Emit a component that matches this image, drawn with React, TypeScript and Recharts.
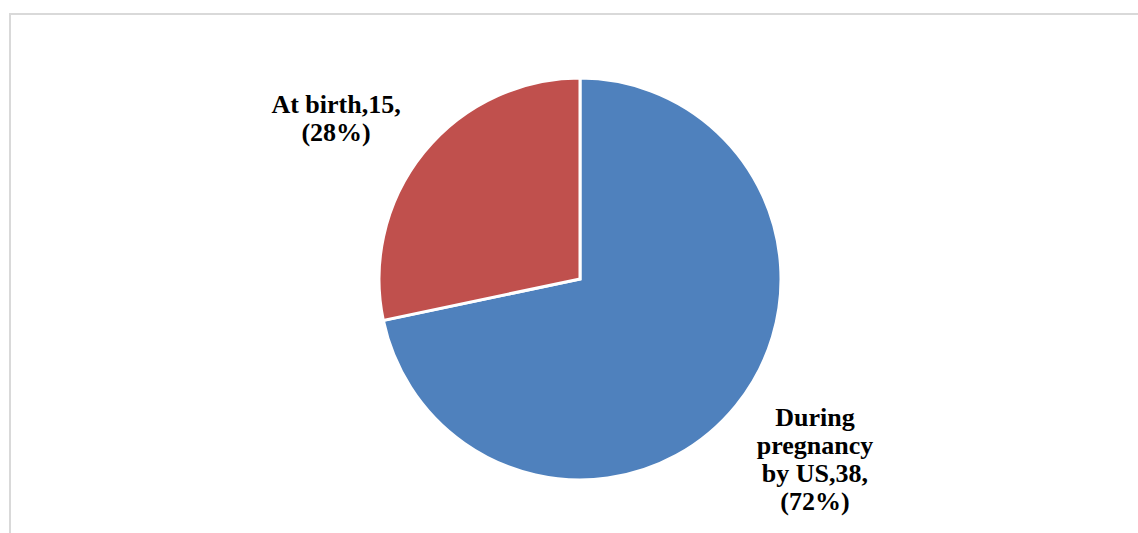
import React from "react";
import { PieChart, Pie, Cell } from "recharts";

const names = ["During pregnancy by US", "At birth"];
const counts = [38, 15];
const labelLines = [
  ["During", "pregnancy", "by US,38,", "(72%)"],
  ["At birth,15,", "(28%)"],
];
const colors = ["#4F81BD", "#C0504D"];

const data = names.map((name, i) => ({ name, value: counts[i] }));

// small per-slice nudges so labels sit where the original "best fit" put them
const NUDGE = [
  { dx: 2, dy: -9 },
  { dx: -11, dy: 28 },
];
const LINE_H = 28;

const renderLabel = (props: any) => {
  const { cx, cy, midAngle, index } = props;
  const R = 300;
  const rad = (Math.PI / 180) * midAngle;
  const x = cx + R * Math.cos(rad) + NUDGE[index].dx;
  const y = cy - R * Math.sin(rad) + NUDGE[index].dy;
  const lines = labelLines[index];
  const top = y - ((lines.length - 1) * LINE_H) / 2;
  return (
    <text
      x={x}
      y={top}
      textAnchor="middle"
      dominantBaseline="central"
      fontFamily="'Liberation Serif', 'Times New Roman', serif"
      fontWeight="bold"
      fontSize={26}
      fill="#000"
    >
      {lines.map((l, i) => (
        <tspan key={i} x={x} y={top + i * LINE_H}>
          {l}
        </tspan>
      ))}
    </text>
  );
};

export default function App() {
  return (
    <div style={{ position: "absolute", left: 0, top: 0, width: 1138, height: 533, background: "#fff", overflow: "hidden" }}>
      <div
        style={{
          position: "absolute",
          left: 9,
          top: 13,
          width: 1200,
          height: 600,
          borderTop: "2px solid #d9d9d9",
          borderLeft: "2px solid #d9d9d9",
        }}
      />
      <div style={{ position: "absolute", left: 0, top: 0 }}>
        <PieChart width={1138} height={533} margin={{ top: 0, right: 0, bottom: 0, left: 0 }}>
          <Pie
            data={data}
            dataKey="value"
            nameKey="name"
            cx={580}
            cy={279}
            outerRadius={201}
            startAngle={90}
            endAngle={-270}
            stroke="#fff"
            strokeWidth={3}
            label={renderLabel}
            labelLine={false}
            isAnimationActive={false}
          >
            {data.map((d, i) => (
              <Cell key={d.name} fill={colors[i]} />
            ))}
          </Pie>
        </PieChart>
      </div>
    </div>
  );
}
